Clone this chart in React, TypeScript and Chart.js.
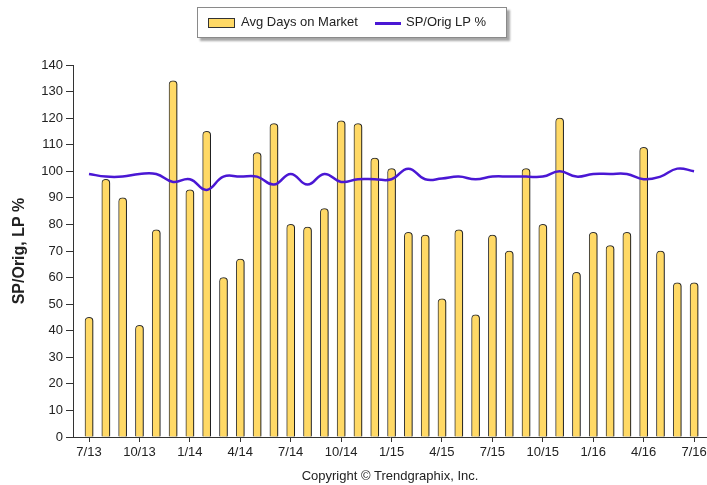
import React, { useEffect, useRef } from "react";
import { Chart, registerables } from "chart.js";

Chart.register(...registerables);

const months = [
  "7/13", "8/13", "9/13", "10/13", "11/13", "12/13",
  "1/14", "2/14", "3/14", "4/14", "5/14", "6/14",
  "7/14", "8/14", "9/14", "10/14", "11/14", "12/14",
  "1/15", "2/15", "3/15", "4/15", "5/15", "6/15",
  "7/15", "8/15", "9/15", "10/15", "11/15", "12/15",
  "1/16", "2/16", "3/16", "4/16", "5/16", "6/16",
  "7/16",
];

const avgDaysOnMarket = [
  45, 97, 90, 42, 78, 134, 93, 115, 60, 67, 107, 118, 80, 79, 86, 119, 118, 105,
  101, 77, 76, 52, 78, 46, 76, 70, 101, 80, 120, 62, 77, 72, 77, 109, 70, 58, 58,
];

const spOrigLpPct = [
  99, 98, 98, 99, 99, 96, 97, 93, 98, 98, 98, 95, 99, 95, 99, 96, 97, 97,
  97, 101, 97, 97.3, 98, 97, 98, 98, 98, 98, 100, 98, 99, 99, 99, 97, 98, 101, 100,
];

const labelEvery = 3;
const yTicksMax = 140;
const yStep = 10;

const FONT = 'Arial, "Liberation Sans", sans-serif';
const BAR_FILL = "#FFD966";
const BAR_EDGE = "#3a3a3a";
const LINE_COLOR = "#4a17d4";
const TEXT = "#222";

const barShadow = {
  id: "barShadow",
  beforeDatasetDraw(chart: any, args: any) {
    if (args.index === 0) {
      const ctx = chart.ctx;
      ctx.save();
      ctx.shadowColor = "rgba(0,0,0,0.5)";
      ctx.shadowOffsetX = 2;
      ctx.shadowOffsetY = 0;
      ctx.shadowBlur = 2;
    }
  },
  afterDatasetDraw(chart: any, args: any) {
    if (args.index === 0) chart.ctx.restore();
  },
};

export default function App() {
  const ref = useRef<HTMLCanvasElement | null>(null);

  useEffect(() => {
    if (!ref.current) return;
    Chart.defaults.font.family = FONT;
    const tickIdx = months.map((_, i) => i).filter((i) => i % labelEvery === 0);
    const chart = new Chart(ref.current, {
      type: "bar",
      data: {
        datasets: [
          {
            type: "bar",
            label: "Avg Days on Market",
            data: avgDaysOnMarket.map((v, i) => ({ x: i, y: v })),
            backgroundColor: BAR_FILL,
            borderColor: BAR_EDGE,
            borderWidth: 1,
            borderSkipped: "bottom",
            borderRadius: { topLeft: 4, topRight: 4, bottomLeft: 0, bottomRight: 0 },
            barThickness: 8,
            order: 1,
          } as any,
          {
            type: "line",
            label: "SP/Orig LP %",
            data: spOrigLpPct.map((v, i) => ({ x: i, y: v })),
            borderColor: LINE_COLOR,
            borderWidth: 2.5,
            pointRadius: 0,
            tension: 0.45,
            fill: false,
            order: 0,
          } as any,
        ],
      },
      options: {
        animation: false,
        responsive: true,
        maintainAspectRatio: false,
        layout: { padding: { left: 0, right: 0, top: 65, bottom: 0 } },
        plugins: { legend: { display: false }, tooltip: { enabled: false } },
        scales: {
          x: {
            type: "linear",
            offset: false,
            min: -0.952,
            max: 36.77,
            afterBuildTicks: (s: any) => {
              s.ticks = tickIdx.map((v) => ({ value: v }));
            },
            afterFit: (s: any) => {
              s.height = 48;
              s.paddingRight = 0;
              s.paddingLeft = 0;
            },
            ticks: {
              autoSkip: false,
              maxRotation: 0,
              padding: 3,
              color: TEXT,
              font: { size: 13, family: FONT },
              callback: (v: any) => months[v as number] ?? "",
            },
            grid: { offset: false, drawOnChartArea: false, drawTicks: true, tickLength: 5, color: "#333" },
            border: { display: true, color: "#333", width: 1 },
            title: {
              display: true,
              text: "Copyright © Trendgraphix, Inc.",
              color: TEXT,
              font: { size: 13, family: FONT },
              padding: { top: 4, bottom: 1 },
            },
          },
          y: {
            min: 0,
            max: yTicksMax,
            afterFit: (s: any) => {
              s.width = 73;
            },
            ticks: {
              stepSize: yStep,
              padding: 3,
              color: TEXT,
              font: { size: 13, family: FONT },
            },
            grid: { drawOnChartArea: false, drawTicks: true, tickLength: 7, color: "#333" },
            border: { display: true, color: "#333", width: 1 },
            title: {
              display: true,
              text: "SP/Orig, LP %",
              color: TEXT,
              font: { size: 16, weight: "bold", family: FONT },
              padding: { top: 10, bottom: 4 },
            },
          },
        },
      } as any,
      plugins: [barShadow],
    });
    return () => chart.destroy();
  }, []);

  return (
    <div style={{ position: "absolute", left: 0, top: 0, width: 707, height: 485, background: "#fff" }}>
      <canvas ref={ref} />
      <div
        style={{
          position: "absolute",
          left: 197,
          top: 7,
          width: 310,
          height: 31,
          boxSizing: "border-box",
          border: "1px solid #8a8a8a",
          boxShadow: "3px 3px 2px rgba(0,0,0,0.35)",
          background: "#fff",
          fontFamily: FONT,
          fontSize: 13,
          color: TEXT,
        }}
      >
        <div
          style={{
            position: "absolute",
            left: 10,
            top: 10,
            width: 27,
            height: 10,
            boxSizing: "border-box",
            background: BAR_FILL,
            border: "1px solid #333",
          }}
        />
        <div style={{ position: "absolute", left: 43, top: 6, lineHeight: "16px", whiteSpace: "nowrap" }}>
          Avg Days on Market
        </div>
        <div
          style={{
            position: "absolute",
            left: 177,
            top: 14,
            width: 26,
            height: 2.5,
            background: LINE_COLOR,
          }}
        />
        <div style={{ position: "absolute", left: 208, top: 6, lineHeight: "16px", whiteSpace: "nowrap" }}>
          SP/Orig LP %
        </div>
      </div>
    </div>
  );
}
